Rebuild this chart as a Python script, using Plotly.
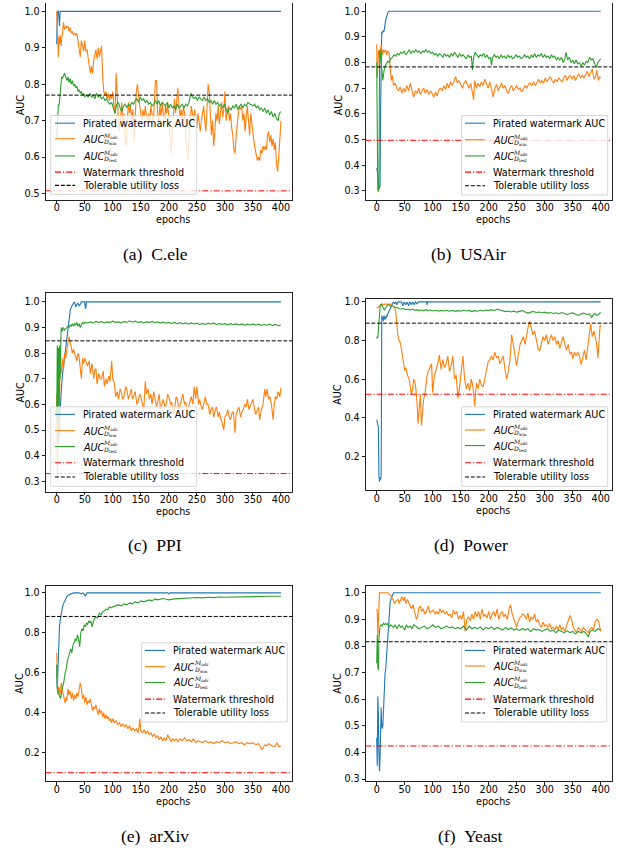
import plotly.graph_objects as go

W, H = 621, 855

# ---------------- data (epoch, AUC) ----------------
EPOCH_TICKS = [0, 50, 100, 150, 200, 250, 300, 350, 400]

WATERMARK_THRESHOLD = [0.507, 0.497, 0.33, 0.522, 0.10, 0.4245]
UTILITY_LOSS = [0.77, 0.783, 0.848, 0.89, 0.882, 0.816]

# (a) C.ele
A_PIR = [(0,0.91),(1,1.0),(3,1.0),(4,0.96),(5,0.96),(6,1.0),(400,1.0)]
A_WM = [(0,1.0),(1,0.96),(2,0.90),(3,0.875),(4,0.93),(5,0.91),(6,0.935),(7,0.92),(8,0.905),(9,0.93),(10,0.935),(12,0.97),(14,0.95),(16,0.96),(18,0.955),(20,0.96),(22,0.945),(24,0.955),(26,0.94),(28,0.945),(30,0.935),(32,0.94),(34,0.935),(36,0.94),(38,0.92),(40,0.905),(42,0.875),(44,0.92),(46,0.90),(48,0.89),(50,0.92),(52,0.89),(54,0.895),(56,0.87),(58,0.86),(60,0.83),(62,0.85),(64,0.83),(66,0.865),(68,0.88),(70,0.895),(72,0.87),(74,0.90),(76,0.875),(78,0.89),(80,0.905),(82,0.82),(84,0.78),(86,0.77),(88,0.78),(90,0.76),(92,0.775),(94,0.755),(96,0.77),(98,0.76),(100,0.78),(102,0.74),(104,0.72),(106,0.83),(108,0.76),(110,0.70),(112,0.67),(114,0.72),(116,0.75),(118,0.68),(120,0.72),(122,0.64),(124,0.63),(126,0.70),(128,0.75),(130,0.72),(132,0.74),(134,0.70),(136,0.73),(138,0.64),(140,0.72),(142,0.78),(144,0.80),(146,0.76),(148,0.74),(150,0.72),(152,0.70),(154,0.73),(156,0.71),(158,0.74),(160,0.72),(162,0.69),(164,0.72),(166,0.70),(168,0.74),(170,0.72),(172,0.68),(174,0.76),(176,0.81),(178,0.81),(180,0.72),(182,0.70),(184,0.74),(186,0.71),(188,0.75),(190,0.72),(192,0.69),(194,0.74),(196,0.72),(198,0.75),(200,0.70),(202,0.68),(204,0.61),(206,0.66),(208,0.73),(210,0.76),(212,0.72),(214,0.77),(216,0.79),(218,0.74),(220,0.71),(222,0.73),(224,0.70),(226,0.74),(228,0.72),(230,0.66),(232,0.62),(234,0.59),(236,0.65),(238,0.70),(240,0.74),(242,0.72),(244,0.70),(246,0.73),(248,0.71),(250,0.68),(252,0.72),(254,0.69),(256,0.67),(258,0.70),(260,0.72),(262,0.74),(264,0.70),(266,0.67),(268,0.73),(270,0.80),(272,0.78),(274,0.72),(276,0.66),(278,0.70),(280,0.63),(282,0.67),(284,0.72),(286,0.70),(288,0.74),(290,0.69),(292,0.72),(294,0.75),(296,0.71),(298,0.73),(300,0.78),(302,0.70),(304,0.72),(306,0.74),(308,0.70),(310,0.72),(312,0.68),(314,0.66),(316,0.62),(318,0.61),(320,0.66),(322,0.70),(324,0.72),(326,0.74),(328,0.73),(330,0.74),(332,0.70),(334,0.72),(336,0.67),(338,0.71),(340,0.74),(342,0.70),(344,0.66),(346,0.72),(348,0.69),(350,0.65),(352,0.64),(354,0.62),(356,0.60),(358,0.59),(360,0.60),(362,0.59),(364,0.62),(366,0.61),(368,0.63),(370,0.62),(372,0.63),(374,0.62),(376,0.66),(378,0.67),(380,0.64),(382,0.66),(384,0.63),(386,0.65),(388,0.62),(390,0.64),(392,0.58),(394,0.56),(396,0.60),(398,0.66),(400,0.70)]
A_TEST = [(0,0.65),(1,0.70),(2,0.74),(3,0.745),(4,0.74),(5,0.75),(6,0.77),(7,0.79),(8,0.81),(9,0.82),(10,0.815),(12,0.825),(14,0.83),(16,0.82),(18,0.81),(20,0.82),(22,0.805),(24,0.815),(26,0.80),(28,0.81),(30,0.795),(32,0.80),(34,0.79),(36,0.795),(38,0.78),(40,0.785),(42,0.775),(44,0.78),(46,0.77),(48,0.775),(50,0.765),(53,0.77),(56,0.765),(59,0.775),(62,0.765),(65,0.77),(68,0.76),(71,0.775),(74,0.765),(77,0.77),(80,0.76),(83,0.765),(86,0.755),(89,0.76),(92,0.75),(95,0.745),(98,0.75),(101,0.735),(104,0.72),(107,0.745),(110,0.75),(113,0.735),(116,0.725),(119,0.74),(122,0.745),(125,0.735),(128,0.745),(131,0.74),(134,0.75),(137,0.745),(140,0.755),(143,0.76),(146,0.75),(149,0.765),(152,0.755),(155,0.76),(158,0.75),(161,0.755),(164,0.745),(167,0.75),(170,0.74),(173,0.745),(176,0.755),(179,0.745),(182,0.755),(185,0.74),(188,0.75),(191,0.745),(194,0.74),(197,0.75),(200,0.735),(203,0.745),(206,0.735),(209,0.74),(212,0.73),(215,0.745),(218,0.735),(221,0.74),(224,0.745),(227,0.735),(230,0.745),(233,0.74),(236,0.75),(239,0.775),(242,0.765),(245,0.76),(248,0.765),(251,0.755),(254,0.765),(257,0.76),(260,0.755),(263,0.765),(266,0.755),(269,0.76),(272,0.75),(275,0.755),(278,0.745),(281,0.755),(284,0.745),(287,0.75),(290,0.74),(293,0.745),(296,0.735),(299,0.745),(302,0.73),(305,0.72),(308,0.735),(311,0.73),(314,0.74),(317,0.735),(320,0.745),(323,0.73),(326,0.74),(329,0.745),(332,0.735),(335,0.745),(338,0.74),(341,0.75),(344,0.745),(347,0.745),(350,0.74),(353,0.745),(356,0.735),(359,0.74),(362,0.73),(365,0.735),(368,0.725),(371,0.735),(374,0.72),(377,0.73),(380,0.715),(383,0.725),(386,0.71),(389,0.72),(392,0.705),(395,0.70),(397,0.72),(400,0.725)]

# (b) USAir
B_PIR = [(0,0.39),(1,0.38),(2,0.35),(3,0.32),(4,0.31),(5,0.31),(6,0.32),(7,0.62),(8,0.88),(9,0.92),(10,0.915),(11,0.92),(12,0.925),(13,0.92),(14,0.93),(15,0.95),(16,0.965),(17,0.975),(18,0.985),(19,0.99),(20,0.995),(22,1.0),(400,1.0)]
B_WM = [(0,0.87),(1,0.74),(2,0.78),(3,0.84),(4,0.85),(5,0.82),(6,0.84),(8,0.87),(10,0.83),(12,0.85),(14,0.84),(16,0.85),(18,0.83),(20,0.845),(22,0.84),(24,0.78),(26,0.73),(28,0.75),(30,0.71),(33,0.72),(36,0.70),(39,0.69),(42,0.705),(45,0.68),(48,0.70),(51,0.685),(54,0.71),(57,0.69),(60,0.72),(63,0.69),(66,0.665),(69,0.69),(72,0.68),(75,0.70),(78,0.675),(81,0.69),(84,0.70),(87,0.68),(90,0.695),(93,0.675),(96,0.69),(99,0.68),(102,0.665),(105,0.685),(108,0.67),(111,0.695),(114,0.70),(117,0.69),(120,0.71),(123,0.695),(126,0.72),(129,0.70),(132,0.725),(135,0.71),(138,0.73),(141,0.745),(144,0.72),(147,0.73),(150,0.715),(153,0.70),(156,0.72),(159,0.73),(162,0.715),(165,0.70),(168,0.72),(171,0.68),(173,0.655),(175,0.73),(178,0.70),(181,0.72),(184,0.705),(187,0.725),(190,0.71),(193,0.735),(196,0.72),(199,0.70),(202,0.725),(205,0.70),(208,0.665),(211,0.70),(214,0.715),(217,0.69),(220,0.705),(223,0.72),(226,0.70),(229,0.71),(232,0.69),(235,0.68),(238,0.70),(241,0.71),(244,0.69),(247,0.70),(250,0.71),(253,0.695),(256,0.70),(259,0.685),(262,0.70),(265,0.71),(268,0.70),(271,0.715),(274,0.72),(277,0.71),(280,0.725),(283,0.71),(286,0.72),(289,0.735),(292,0.72),(295,0.73),(298,0.72),(301,0.74),(304,0.725),(307,0.735),(310,0.745),(313,0.73),(316,0.72),(319,0.735),(322,0.725),(325,0.74),(328,0.73),(331,0.725),(334,0.74),(337,0.75),(340,0.73),(343,0.745),(346,0.75),(349,0.735),(352,0.75),(355,0.73),(358,0.745),(361,0.755),(364,0.74),(367,0.75),(370,0.74),(373,0.755),(376,0.765),(379,0.745),(382,0.76),(385,0.775),(388,0.735),(391,0.745),(393,0.77),(396,0.73),(398,0.745),(400,0.74)]
B_TEST = [(0,0.80),(1,0.31),(2,0.30),(3,0.30),(4,0.32),(5,0.78),(6,0.85),(7,0.83),(8,0.80),(9,0.76),(10,0.73),(11,0.73),(12,0.75),(13,0.77),(14,0.78),(16,0.79),(18,0.80),(20,0.805),(22,0.80),(25,0.815),(28,0.82),(31,0.83),(34,0.825),(37,0.835),(40,0.83),(43,0.84),(46,0.835),(49,0.845),(52,0.83),(55,0.84),(58,0.85),(61,0.835),(64,0.845),(67,0.84),(70,0.85),(73,0.84),(76,0.845),(79,0.835),(82,0.845),(85,0.84),(88,0.85),(91,0.84),(94,0.845),(97,0.835),(100,0.84),(103,0.83),(106,0.835),(109,0.825),(112,0.835),(115,0.83),(118,0.82),(121,0.835),(124,0.825),(127,0.83),(130,0.82),(133,0.835),(136,0.825),(139,0.84),(142,0.83),(145,0.82),(148,0.835),(151,0.825),(154,0.83),(157,0.82),(160,0.815),(163,0.83),(166,0.82),(169,0.825),(171,0.77),(173,0.82),(176,0.84),(179,0.83),(182,0.82),(185,0.83),(188,0.825),(191,0.835),(194,0.82),(197,0.83),(200,0.815),(203,0.82),(205,0.79),(207,0.82),(210,0.83),(213,0.82),(216,0.825),(219,0.815),(222,0.83),(225,0.82),(228,0.825),(231,0.815),(234,0.83),(237,0.82),(240,0.825),(243,0.815),(246,0.82),(249,0.83),(252,0.82),(255,0.825),(258,0.815),(261,0.82),(264,0.83),(267,0.82),(270,0.825),(273,0.815),(276,0.83),(279,0.82),(282,0.835),(285,0.82),(288,0.83),(291,0.825),(294,0.835),(297,0.82),(300,0.83),(303,0.82),(306,0.825),(309,0.815),(312,0.83),(315,0.82),(318,0.825),(321,0.81),(324,0.82),(327,0.81),(330,0.82),(333,0.80),(336,0.815),(338,0.84),(341,0.81),(344,0.82),(347,0.80),(350,0.81),(353,0.795),(356,0.81),(359,0.795),(362,0.80),(365,0.785),(368,0.80),(371,0.79),(374,0.805),(377,0.80),(380,0.82),(383,0.81),(386,0.815),(389,0.80),(392,0.78),(395,0.80),(398,0.81),(400,0.815)]

# (c) PPI
C_PIR = [(0,0.60),(1,0.50),(2,0.47),(3,0.45),(4,0.50),(6,0.56),(8,0.65),(10,0.71),(12,0.75),(14,0.78),(16,0.81),(18,0.86),(20,0.91),(22,0.94),(24,0.965),(26,0.98),(28,0.99),(30,0.995),(32,1.0),(34,0.98),(36,0.99),(38,0.995),(40,0.985),(42,0.99),(44,1.0),(50,1.0),(51,0.975),(52,0.975),(53,1.0),(400,1.0)]
C_WM = [(0,0.64),(1,0.30),(2,0.45),(3,0.58),(4,0.70),(5,0.60),(6,0.74),(8,0.72),(10,0.78),(12,0.73),(14,0.80),(16,0.78),(18,0.82),(20,0.84),(22,0.865),(24,0.84),(26,0.82),(28,0.80),(30,0.815),(33,0.79),(36,0.77),(38,0.80),(40,0.785),(42,0.74),(44,0.70),(46,0.78),(48,0.76),(50,0.78),(53,0.76),(55,0.75),(58,0.77),(60,0.72),(63,0.76),(66,0.70),(68,0.735),(70,0.74),(72,0.68),(75,0.72),(78,0.70),(80,0.70),(83,0.73),(85,0.67),(88,0.70),(90,0.68),(93,0.71),(95,0.69),(98,0.77),(100,0.70),(103,0.68),(105,0.63),(108,0.65),(110,0.62),(113,0.66),(115,0.65),(118,0.62),(120,0.63),(123,0.67),(125,0.66),(128,0.62),(130,0.64),(133,0.66),(135,0.62),(138,0.64),(140,0.65),(143,0.60),(145,0.61),(148,0.64),(150,0.63),(153,0.60),(155,0.57),(158,0.69),(160,0.64),(163,0.66),(165,0.62),(168,0.64),(170,0.60),(173,0.65),(175,0.63),(178,0.59),(180,0.61),(183,0.64),(185,0.58),(188,0.60),(190,0.62),(193,0.59),(195,0.60),(198,0.64),(200,0.63),(203,0.60),(205,0.61),(208,0.56),(210,0.58),(213,0.63),(215,0.62),(218,0.58),(220,0.60),(223,0.62),(225,0.64),(228,0.60),(230,0.61),(233,0.57),(235,0.59),(238,0.62),(240,0.63),(243,0.60),(245,0.67),(248,0.62),(250,0.67),(253,0.60),(255,0.62),(258,0.59),(260,0.58),(263,0.61),(265,0.63),(268,0.60),(270,0.60),(273,0.56),(275,0.58),(278,0.59),(280,0.55),(283,0.58),(285,0.59),(288,0.55),(290,0.57),(293,0.54),(295,0.53),(298,0.50),(300,0.55),(303,0.56),(305,0.58),(308,0.55),(310,0.54),(313,0.57),(315,0.57),(318,0.49),(320,0.56),(323,0.58),(325,0.59),(328,0.55),(330,0.57),(333,0.58),(335,0.60),(338,0.59),(340,0.62),(343,0.58),(345,0.59),(348,0.61),(350,0.62),(353,0.58),(355,0.56),(358,0.58),(360,0.59),(362,0.54),(365,0.58),(368,0.60),(371,0.66),(373,0.63),(375,0.66),(378,0.62),(380,0.63),(383,0.60),(386,0.54),(388,0.60),(390,0.63),(392,0.62),(395,0.65),(398,0.63),(400,0.665)]
C_TEST = [(0,0.55),(1,0.83),(2,0.58),(3,0.82),(4,0.48),(5,0.83),(6,0.70),(7,0.88),(8,0.90),(10,0.885),(12,0.90),(14,0.89),(16,0.895),(18,0.90),(20,0.905),(22,0.90),(24,0.91),(26,0.905),(28,0.915),(30,0.905),(32,0.915),(34,0.91),(36,0.92),(38,0.905),(40,0.915),(42,0.90),(44,0.915),(46,0.92),(48,0.915),(50,0.92),(55,0.918),(60,0.922),(65,0.918),(70,0.924),(75,0.92),(80,0.923),(85,0.918),(90,0.922),(95,0.92),(100,0.925),(105,0.92),(110,0.922),(115,0.918),(120,0.924),(125,0.92),(130,0.926),(135,0.921),(140,0.925),(145,0.92),(150,0.923),(155,0.918),(160,0.922),(165,0.92),(170,0.924),(175,0.919),(180,0.922),(185,0.918),(190,0.921),(195,0.917),(200,0.92),(205,0.916),(210,0.92),(215,0.915),(220,0.919),(225,0.914),(230,0.918),(235,0.913),(240,0.918),(245,0.914),(250,0.917),(255,0.912),(260,0.916),(265,0.912),(270,0.917),(275,0.913),(280,0.918),(285,0.911),(290,0.916),(295,0.912),(300,0.915),(305,0.91),(310,0.915),(315,0.911),(320,0.914),(325,0.91),(330,0.914),(335,0.909),(340,0.913),(345,0.91),(350,0.914),(355,0.909),(360,0.913),(365,0.908),(370,0.912),(375,0.909),(380,0.913),(385,0.908),(390,0.912),(395,0.907),(400,0.91)]

# (d) Power
D_PIR = [(0,0.39),(1,0.37),(2,0.36),(3,0.35),(4,0.10),(5,0.07),(6,0.09),(7,0.08),(8,0.10),(9,0.93),(10,0.91),(11,0.92),(12,0.90),(13,0.93),(14,0.91),(15,0.92),(16,0.91),(17,0.93),(18,0.92),(20,0.94),(22,0.95),(24,0.96),(26,0.975),(28,0.99),(30,1.0),(32,0.99),(34,1.0),(36,0.985),(38,1.0),(44,1.0),(47,0.98),(49,1.0),(52,0.985),(54,1.0),(57,0.98),(59,1.0),(62,0.985),(64,1.0),(67,0.985),(69,1.0),(72,0.99),(74,1.0),(89,1.0),(90,0.985),(91,1.0),(400,1.0)]
D_WM = [(0,0.97),(2,0.97),(4,0.975),(6,0.98),(8,0.985),(10,0.99),(12,0.985),(14,0.99),(16,0.99),(18,0.985),(20,0.99),(22,0.985),(24,0.99),(26,0.985),(28,0.98),(30,0.975),(32,0.97),(34,0.95),(36,0.88),(38,0.82),(40,0.80),(42,0.79),(44,0.76),(46,0.72),(48,0.67),(50,0.645),(52,0.66),(55,0.62),(58,0.60),(60,0.57),(62,0.52),(64,0.55),(66,0.60),(68,0.59),(70,0.55),(72,0.48),(74,0.37),(76,0.45),(78,0.52),(80,0.36),(82,0.45),(84,0.50),(86,0.52),(88,0.58),(90,0.62),(92,0.64),(95,0.66),(98,0.68),(100,0.53),(103,0.62),(106,0.65),(109,0.68),(112,0.725),(115,0.65),(118,0.70),(121,0.66),(124,0.68),(127,0.72),(130,0.64),(133,0.67),(136,0.72),(139,0.60),(142,0.62),(145,0.50),(148,0.56),(151,0.66),(154,0.72),(157,0.60),(160,0.55),(163,0.58),(166,0.54),(169,0.60),(172,0.56),(175,0.46),(178,0.58),(181,0.55),(184,0.60),(187,0.57),(190,0.56),(193,0.60),(196,0.64),(199,0.69),(202,0.70),(205,0.72),(208,0.70),(211,0.74),(214,0.71),(217,0.72),(220,0.68),(223,0.70),(226,0.72),(229,0.65),(232,0.60),(235,0.64),(238,0.70),(241,0.83),(244,0.78),(247,0.74),(250,0.67),(253,0.73),(256,0.78),(259,0.80),(262,0.82),(265,0.78),(268,0.84),(271,0.88),(273,0.90),(276,0.86),(279,0.83),(282,0.85),(285,0.80),(288,0.76),(291,0.745),(294,0.78),(297,0.82),(300,0.80),(303,0.83),(306,0.78),(309,0.81),(312,0.83),(315,0.80),(318,0.82),(321,0.78),(324,0.80),(327,0.76),(330,0.79),(333,0.82),(336,0.78),(339,0.75),(342,0.78),(345,0.73),(348,0.74),(350,0.705),(353,0.74),(356,0.72),(359,0.74),(362,0.72),(365,0.675),(368,0.72),(371,0.75),(374,0.70),(377,0.79),(380,0.84),(382,0.885),(385,0.82),(388,0.85),(391,0.80),(393,0.78),(395,0.71),(397,0.80),(399,0.88),(400,0.87)]
D_TEST = [(0,0.81),(1,0.82),(2,0.815),(3,0.86),(4,0.92),(5,0.95),(6,0.97),(7,0.985),(8,0.988),(9,0.985),(10,0.98),(11,0.975),(12,0.97),(13,0.96),(14,0.957),(15,0.965),(17,0.975),(19,0.98),(21,0.985),(23,0.98),(25,0.978),(27,0.982),(30,0.975),(33,0.97),(36,0.972),(40,0.965),(44,0.963),(48,0.966),(52,0.96),(56,0.962),(60,0.958),(64,0.962),(68,0.957),(72,0.96),(76,0.955),(80,0.958),(84,0.954),(88,0.96),(92,0.955),(96,0.958),(100,0.953),(105,0.957),(110,0.952),(115,0.956),(120,0.953),(125,0.957),(130,0.952),(135,0.956),(140,0.951),(145,0.955),(150,0.952),(155,0.957),(160,0.953),(165,0.956),(170,0.95),(175,0.955),(180,0.952),(185,0.957),(190,0.953),(195,0.958),(200,0.955),(205,0.96),(210,0.956),(215,0.962),(220,0.958),(225,0.955),(230,0.95),(235,0.953),(240,0.948),(245,0.952),(250,0.947),(255,0.951),(260,0.955),(265,0.948),(270,0.942),(275,0.947),(280,0.95),(285,0.945),(290,0.948),(295,0.943),(300,0.947),(305,0.942),(310,0.945),(315,0.94),(320,0.944),(325,0.938),(330,0.945),(335,0.94),(340,0.935),(345,0.94),(350,0.943),(355,0.936),(360,0.93),(365,0.938),(370,0.942),(375,0.935),(380,0.938),(384,0.92),(387,0.935),(390,0.94),(393,0.93),(396,0.935),(400,0.945)]

# (e) arXiv
E_PIR = [(0,0.64),(1,0.52),(2,0.60),(3,0.71),(4,0.78),(5,0.83),(6,0.86),(8,0.90),(10,0.925),(12,0.945),(15,0.965),(18,0.98),(21,0.99),(25,0.995),(30,1.0),(40,1.0),(44,0.995),(47,1.0),(49,0.99),(51,0.985),(54,1.0),(198,1.0),(200,0.995),(202,1.0),(400,1.0)]
E_WM = [(0,0.70),(1,0.52),(2,0.49),(3,0.50),(4,0.53),(5,0.51),(6,0.49),(7,0.51),(8,0.55),(9,0.54),(10,0.52),(11,0.50),(12,0.48),(13,0.47),(14,0.46),(15,0.45),(16,0.47),(17,0.48),(18,0.46),(19,0.50),(20,0.52),(22,0.49),(24,0.51),(26,0.47),(28,0.50),(30,0.46),(32,0.49),(34,0.47),(36,0.50),(38,0.48),(40,0.53),(42,0.55),(44,0.52),(46,0.47),(48,0.49),(50,0.45),(52,0.48),(54,0.44),(56,0.46),(58,0.45),(60,0.47),(62,0.44),(64,0.41),(66,0.43),(68,0.42),(70,0.44),(72,0.41),(74,0.39),(76,0.42),(78,0.40),(80,0.41),(82,0.38),(84,0.40),(86,0.37),(88,0.39),(90,0.37),(92,0.38),(94,0.36),(96,0.37),(98,0.35),(100,0.37),(103,0.35),(106,0.36),(109,0.34),(112,0.35),(115,0.33),(118,0.345),(121,0.33),(124,0.34),(127,0.32),(130,0.335),(133,0.31),(136,0.325),(139,0.31),(142,0.32),(145,0.30),(147,0.33),(148,0.37),(150,0.31),(153,0.30),(156,0.315),(159,0.295),(162,0.31),(165,0.29),(168,0.30),(171,0.28),(174,0.295),(177,0.275),(180,0.285),(183,0.265),(186,0.28),(189,0.26),(192,0.275),(195,0.26),(198,0.29),(201,0.27),(204,0.255),(207,0.27),(210,0.26),(213,0.27),(216,0.255),(220,0.27),(224,0.26),(228,0.275),(232,0.26),(236,0.265),(240,0.255),(244,0.27),(248,0.25),(252,0.26),(256,0.255),(260,0.25),(265,0.26),(270,0.25),(275,0.255),(280,0.245),(285,0.255),(290,0.25),(295,0.26),(300,0.25),(305,0.255),(310,0.245),(315,0.25),(320,0.255),(325,0.245),(330,0.25),(335,0.24),(340,0.25),(345,0.245),(350,0.25),(355,0.24),(360,0.245),(363,0.23),(366,0.215),(369,0.23),(372,0.24),(375,0.235),(378,0.245),(381,0.24),(384,0.235),(387,0.23),(390,0.235),(393,0.25),(396,0.23),(400,0.235)]
E_TEST = [(0,0.64),(1,0.52),(3,0.50),(5,0.48),(7,0.47),(9,0.51),(11,0.53),(13,0.56),(15,0.60),(17,0.62),(19,0.66),(21,0.68),(23,0.70),(25,0.72),(27,0.70),(29,0.74),(31,0.75),(33,0.77),(35,0.76),(37,0.79),(39,0.77),(41,0.73),(43,0.80),(45,0.82),(47,0.81),(49,0.84),(51,0.83),(53,0.85),(55,0.84),(57,0.86),(59,0.85),(61,0.86),(63,0.83),(65,0.86),(67,0.87),(70,0.88),(73,0.875),(76,0.90),(79,0.89),(82,0.905),(85,0.91),(88,0.92),(91,0.915),(94,0.93),(97,0.925),(100,0.93),(105,0.935),(110,0.94),(115,0.935),(120,0.945),(125,0.94),(130,0.95),(135,0.945),(140,0.955),(145,0.95),(150,0.96),(155,0.955),(160,0.96),(165,0.965),(170,0.96),(175,0.97),(180,0.965),(185,0.97),(190,0.972),(195,0.968),(200,0.965),(210,0.97),(220,0.972),(230,0.975),(240,0.974),(250,0.977),(260,0.975),(270,0.978),(280,0.976),(290,0.979),(300,0.978),(320,0.98),(340,0.981),(360,0.982),(380,0.983),(400,0.983)]

# (f) Yeast
F_PIR = [(0,0.455),(1,0.35),(2,0.61),(3,0.55),(4,0.40),(5,0.33),(6,0.38),(7,0.48),(8,0.57),(9,0.50),(10,0.49),(11,0.50),(12,0.56),(13,0.62),(14,0.70),(15,0.70),(16,0.71),(17,0.74),(18,0.78),(19,0.83),(20,0.87),(21,0.90),(22,0.93),(24,0.965),(26,0.98),(28,0.99),(30,1.0),(400,1.0)]
F_WM = [(0,0.94),(1,0.93),(2,0.835),(3,0.90),(4,0.98),(5,1.0),(10,1.0),(15,1.0),(20,1.0),(22,0.995),(25,0.99),(28,0.98),(30,0.97),(32,0.96),(35,0.97),(38,0.975),(40,0.96),(42,0.97),(45,0.985),(48,0.97),(50,0.985),(52,0.96),(55,0.975),(58,0.96),(60,0.95),(62,0.94),(65,0.955),(68,0.93),(71,0.90),(73,0.91),(75,0.94),(78,0.95),(80,0.93),(83,0.94),(86,0.92),(89,0.93),(92,0.95),(95,0.925),(98,0.93),(101,0.935),(104,0.92),(107,0.93),(110,0.92),(113,0.94),(116,0.925),(119,0.935),(122,0.92),(125,0.93),(128,0.915),(131,0.92),(134,0.905),(137,0.935),(140,0.92),(143,0.93),(146,0.90),(149,0.915),(152,0.90),(155,0.93),(158,0.855),(161,0.90),(164,0.91),(167,0.895),(170,0.92),(173,0.90),(176,0.93),(179,0.91),(182,0.93),(185,0.90),(188,0.94),(191,0.91),(194,0.92),(197,0.905),(200,0.93),(203,0.90),(206,0.92),(209,0.93),(212,0.91),(215,0.94),(218,0.90),(221,0.92),(224,0.93),(227,0.91),(230,0.92),(233,0.90),(236,0.935),(239,0.955),(242,0.92),(245,0.90),(248,0.88),(250,0.87),(252,0.89),(255,0.905),(258,0.91),(261,0.92),(264,0.915),(267,0.90),(270,0.925),(273,0.89),(276,0.91),(279,0.90),(282,0.92),(285,0.89),(288,0.90),(291,0.88),(294,0.87),(297,0.89),(300,0.875),(303,0.88),(306,0.87),(309,0.885),(312,0.865),(315,0.87),(318,0.86),(321,0.875),(324,0.86),(327,0.88),(330,0.86),(333,0.87),(336,0.855),(339,0.88),(342,0.895),(345,0.915),(348,0.90),(351,0.87),(354,0.86),(357,0.85),(360,0.87),(363,0.86),(366,0.855),(369,0.87),(372,0.86),(375,0.855),(378,0.85),(381,0.865),(384,0.87),(387,0.86),(390,0.89),(393,0.90),(396,0.895),(398,0.87),(400,0.855)]
F_TEST = [(0,0.735),(1,0.84),(2,0.72),(3,0.71),(4,0.83),(5,0.872),(6,0.875),(8,0.88),(10,0.875),(12,0.885),(14,0.88),(16,0.885),(18,0.88),(20,0.885),(22,0.87),(25,0.88),(28,0.875),(30,0.87),(33,0.88),(36,0.865),(40,0.88),(43,0.87),(46,0.875),(50,0.86),(53,0.88),(56,0.87),(60,0.875),(63,0.865),(66,0.88),(70,0.875),(75,0.865),(80,0.87),(85,0.875),(90,0.865),(95,0.87),(100,0.88),(105,0.87),(110,0.875),(115,0.865),(120,0.87),(125,0.875),(130,0.868),(135,0.872),(140,0.865),(145,0.87),(150,0.865),(155,0.875),(160,0.86),(165,0.875),(170,0.865),(175,0.87),(180,0.865),(185,0.872),(190,0.86),(195,0.87),(200,0.865),(205,0.872),(210,0.862),(215,0.87),(220,0.865),(225,0.86),(230,0.87),(235,0.862),(240,0.868),(245,0.86),(250,0.865),(255,0.858),(260,0.866),(265,0.86),(270,0.865),(275,0.855),(280,0.865),(285,0.86),(290,0.862),(295,0.855),(300,0.86),(305,0.865),(310,0.855),(315,0.86),(320,0.85),(325,0.86),(330,0.855),(335,0.85),(340,0.858),(345,0.85),(350,0.855),(355,0.845),(360,0.855),(365,0.85),(370,0.855),(375,0.845),(378,0.835),(381,0.855),(385,0.86),(390,0.855),(395,0.865),(400,0.86)]

CAPTIONS = ["(a)\u00a0\u00a0C.ele", "(b)\u00a0\u00a0USAir", "(c)\u00a0\u00a0PPI",
            "(d)\u00a0\u00a0Power", "(e)\u00a0\u00a0arXiv", "(f)\u00a0\u00a0Yeast"]
LEGEND_LABELS = ["Pirated watermark AUC", "wm", "test", "Watermark threshold", "Tolerable utility loss"]

# ---------------- layout (pixels) ----------------
BLUE, ORANGE, GREEN, RED, BLACK = "#1f77b4", "#ff7f0e", "#2ca02c", "#ff0000", "#000000"
DASHDOT = "6px,2px,1.2px,2px"
DASHED = "4px,1.8px"
FONT = "DejaVu Sans"
FS = 9.6

PANELS = [
    dict(series=(A_PIR, A_WM, A_TEST), frame=(45.5, 0, 292.2, 198), yr=(0.483, 1.023),
         yt=[0.5, 0.6, 0.7, 0.8, 0.9, 1.0], top=False,
         leg=dict(box=(50.7, 113.3, 196.7, 192.7), lx=(55, 75), tx=81.7, rows=[121, 136.7, 154, 170.3, 183.7]),
         cap=(155, 253), ylab_x=20),
    dict(series=(B_PIR, B_WM, B_TEST), frame=(365.5, 0, 611.9, 198), yr=(0.266, 1.032),
         yt=[0.3, 0.4, 0.5, 0.6, 0.7, 0.8, 0.9, 1.0], top=False,
         leg=dict(box=(461.7, 113.3, 607.7, 193.3), lx=(465, 485), tx=491.7, rows=[121, 137.7, 154, 170.3, 184]),
         cap=(468, 253), ylab_x=338),
    dict(series=(C_PIR, C_WM, C_TEST), frame=(45.5, 292.5, 292.2, 492), yr=(0.26, 1.033),
         yt=[0.3, 0.4, 0.5, 0.6, 0.7, 0.8, 0.9, 1.0], top=True,
         leg=dict(box=(50.7, 406.7, 196.7, 486.7), lx=(55, 75), tx=81.7, rows=[414.3, 430.7, 446.7, 463, 477.3]),
         cap=(155, 546), ylab_x=20),
    dict(series=(D_PIR, D_WM, D_TEST), frame=(365.5, 298.3, 611.9, 490.7), yr=(0.025, 1.014),
         yt=[0.2, 0.4, 0.6, 0.8, 1.0], top=True,
         leg=dict(box=(461.7, 406.7, 607.7, 486.7), lx=(465, 485), tx=491.7, rows=[414.3, 430, 445.7, 463, 477.3]),
         cap=(471, 546), ylab_x=338),
    dict(series=(E_PIR, E_WM, E_TEST), frame=(45.5, 587, 292.2, 784), yr=(0.056, 1.035),
         yt=[0.2, 0.4, 0.6, 0.8, 1.0], top=True,
         leg=dict(box=(141.7, 644.3, 287.3, 724), lx=(145, 165), tx=172.3, rows=[652, 668.3, 684.3, 701, 715]),
         cap=(155, 839), ylab_x=20),
    dict(series=(F_PIR, F_WM, F_TEST), frame=(365.5, 587, 611.9, 784), yr=(0.291, 1.026),
         yt=[0.3, 0.4, 0.5, 0.6, 0.7, 0.8, 0.9, 1.0], top=True,
         leg=dict(box=(461.7, 644.3, 606.7, 724), lx=(465, 485), tx=491.7, rows=[652, 667.7, 684.3, 701, 715]),
         cap=(470, 839), ylab_x=338),
]


def px(x):
    return x / W


def py(y):
    return 1 - y / H


fig = go.Figure()
shapes, annos = [], []
layout = {}
colors = [BLUE, ORANGE, GREEN]

for i, p in enumerate(PANELS):
    n = i + 1
    sfx = "" if n == 1 else str(n)
    xa, ya = "x" + sfx, "y" + sfx
    x0, y0, x1, y1 = p["frame"]
    for s, c in zip(p["series"], colors):
        fig.add_trace(go.Scatter(x=[e for e, _ in s], y=[v for _, v in s], mode="lines",
                                 line=dict(color=c, width=1.1), xaxis=xa, yaxis=ya,
                                 showlegend=False, hoverinfo="skip"))
    axis_common = dict(showgrid=False, zeroline=False, showline=True, linecolor="#222",
                       linewidth=0.8, ticks="outside", ticklen=3, tickwidth=0.8, tickcolor="#222",
                       tickfont=dict(family=FONT, size=FS, color="#000"))
    layout["xaxis" + sfx] = dict(axis_common, domain=[px(x0), px(x1)], anchor=ya, range=[-20, 420],
                                 tickvals=EPOCH_TICKS, mirror=p["top"], ticklabelstandoff=-4)
    layout["yaxis" + sfx] = dict(axis_common, domain=[py(y1), py(y0)], anchor=xa, range=list(p["yr"]),
                                 tickvals=p["yt"], tickformat=".1f", mirror=True)
    # threshold lines
    shapes.append(dict(type="line", xref=xa + " domain", x0=0, x1=1, yref=ya,
                       y0=WATERMARK_THRESHOLD[i], y1=WATERMARK_THRESHOLD[i],
                       line=dict(color=RED, width=1, dash=DASHDOT), layer="above"))
    shapes.append(dict(type="line", xref=xa + " domain", x0=0, x1=1, yref=ya,
                       y0=UTILITY_LOSS[i], y1=UTILITY_LOSS[i],
                       line=dict(color=BLACK, width=1, dash=DASHED), layer="above"))
    # axis labels
    annos.append(dict(text="epochs", x=px((x0 + x1) / 2 + 4), y=py(y1 + 20), xref="paper", yref="paper",
                      showarrow=False, font=dict(family=FONT, size=FS, color="#000"),
                      xanchor="center", yanchor="middle"))
    annos.append(dict(text="AUC", x=px(p["ylab_x"]), y=py((y0 + y1) / 2 + (4 if y0 == 0 else 0)),
                      xref="paper", yref="paper", textangle=-90, showarrow=False,
                      font=dict(family=FONT, size=FS, color="#000"), xanchor="center", yanchor="middle"))
    # caption
    annos.append(dict(text=CAPTIONS[i], x=px(p["cap"][0]), y=py(p["cap"][1]), xref="paper", yref="paper",
                      showarrow=False, font=dict(family="Liberation Serif", size=17.5, color="#000"),
                      xanchor="center", yanchor="middle"))
    # legend
    lg = p["leg"]
    bx0, by0, bx1, by1 = lg["box"]
    shapes.append(dict(type="rect", xref="paper", yref="paper", x0=px(bx0), x1=px(bx1), y0=py(by1), y1=py(by0),
                       fillcolor="rgba(255,255,255,0.8)", line=dict(color="#cccccc", width=0.8), layer="above"))
    styles = [(BLUE, "solid"), (ORANGE, "solid"), (GREEN, "solid"), (RED, DASHDOT), (BLACK, DASHED)]
    for r, (ry, (col, dash)) in enumerate(zip(lg["rows"], styles)):
        shapes.append(dict(type="line", xref="paper", yref="paper", x0=px(lg["lx"][0]), x1=px(lg["lx"][1]),
                           y0=py(ry), y1=py(ry), line=dict(color=col, width=1.1, dash=dash), layer="above"))
        lab = LEGEND_LABELS[r]
        if lab in ("wm", "test"):
            annos.append(dict(text="<i>AUC</i>", x=px(lg["tx"]), y=py(ry + 0.5), xref="paper", yref="paper",
                              showarrow=False, font=dict(family=FONT, size=FS, color="#000"),
                              xanchor="left", yanchor="middle", borderpad=0))
            annos.append(dict(text="<i>M</i><sub>adv</sub>", x=px(lg["tx"] + 20.5), y=py(ry - 3.2),
                              xref="paper", yref="paper", showarrow=False,
                              font=dict(family="DejaVu Serif", size=6, color="#000"),
                              xanchor="left", yanchor="middle", borderpad=0))
            annos.append(dict(text="<i>D</i><sub>" + lab + "</sub>", x=px(lg["tx"] + 20.5), y=py(ry + 3.2),
                              xref="paper", yref="paper", showarrow=False,
                              font=dict(family="DejaVu Serif", size=6, color="#000"),
                              xanchor="left", yanchor="middle", borderpad=0))
        else:
            annos.append(dict(text=lab, x=px(lg["tx"]), y=py(ry), xref="paper", yref="paper",
                              showarrow=False, font=dict(family=FONT, size=FS, color="#000"),
                              xanchor="left", yanchor="middle", borderpad=0))

fig.update_layout(width=W, height=H, margin=dict(l=0, r=0, t=0, b=0), paper_bgcolor="white",
                  plot_bgcolor="white", showlegend=False, shapes=shapes, annotations=annos, **layout)
fig.write_html("out.html", config={"displayModeBar": False},
               post_script="document.body.style.margin='0';document.body.style.overflow='hidden';")
